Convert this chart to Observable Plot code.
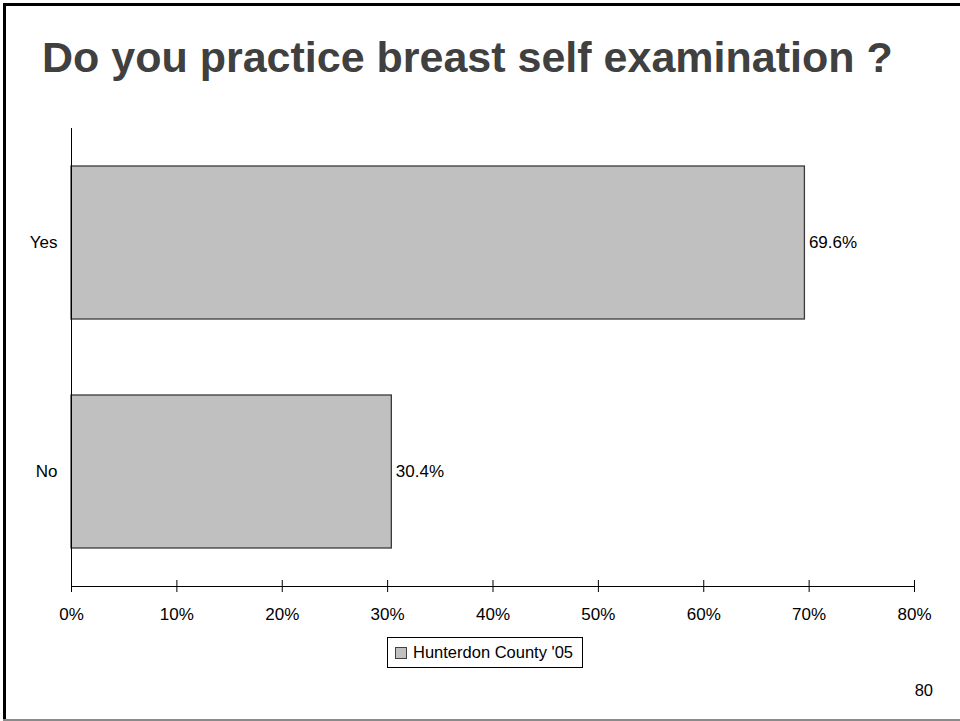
<!DOCTYPE html>
<html>
<head>
<meta charset="utf-8">
<script src="https://cdn.jsdelivr.net/npm/d3@7"></script>
<script src="https://cdn.jsdelivr.net/npm/@observablehq/plot@0.6"></script>
<style>
  html, body { margin: 0; padding: 0; background: #fff; }
  #page { position: relative; width: 960px; height: 721px; overflow: hidden; background: #fff;
          font-family: "Liberation Sans", Arial, sans-serif; }
  .edge-top { position: absolute; z-index: 2; left: 3px; top: 3px; right: 0; height: 3px; background: #000; }
  .edge-left { position: absolute; z-index: 2; left: 3px; top: 3px; width: 3px; bottom: 0; background: #000; }
  .edge-bottom { position: absolute; z-index: 2; left: 3px; right: 0; top: 719px; height: 2px; background: #8a8a8a; }
  #title { position: absolute; left: 42px; top: 36px; font-size: 43px; line-height: 1; font-weight: bold;
           color: #404040; white-space: nowrap; }
  #chart { position: absolute; left: 0; top: 110px; }
  #legend { position: absolute; left: 387px; top: 637px; width: 194px; height: 29px; border: 1px solid #000;
            box-sizing: content-box; display: flex; align-items: center; font-size: 16.5px; color: #000; }
  #legend .sw { width: 10px; height: 10px; background: #c0c0c0; border: 1px solid #404040; margin: 0 6px 0 7px; }
  #pagenum { position: absolute; right: 27px; top: 682px; font-size: 16.5px; line-height: 1; color: #000; }
</style>
</head>
<body>
<div id="page">
  <div id="title"></div>
  <div id="chart"></div>
  <div id="legend"><span class="sw"></span><span id="legend-label"></span></div>
  <div id="pagenum"></div>
  <div class="edge-top"></div>
  <div class="edge-left"></div>
  <div class="edge-bottom"></div>
</div>
<script>
// ---- data ----
const titleText = "Do you practice breast self examination ?";
const answers = ["Yes", "No"];
const percents = [69.6, 30.4];
const seriesName = "Hunterdon County '05";
const xTicks = [0, 10, 20, 30, 40, 50, 60, 70, 80];
const pageNumber = "80";

const data = answers.map((a, i) => ({answer: a, value: percents[i]}));

document.getElementById("title").textContent = titleText;
document.getElementById("legend-label").textContent = seriesName;
document.getElementById("pagenum").textContent = pageNumber;

const W = 960, H = 526, mt = 18, mb = 50, ml = 71, mr = 46;
const plotH = H - mt - mb;

const chart = Plot.plot({
  width: W,
  height: H,
  marginTop: mt,
  marginBottom: mb,
  marginLeft: ml,
  marginRight: mr,
  style: {fontFamily: "'Liberation Sans', Arial, sans-serif", fontSize: "17px", color: "#000", background: "transparent"},
  x: {domain: [0, 80], ticks: xTicks},
  y: {domain: answers, paddingInner: 0.33, paddingOuter: 0.165},
  marks: [
    Plot.barX(data, {x: "value", y: "answer", fill: "#c0c0c0", stroke: "#3a3a3a", strokeWidth: 1.3}),
    Plot.text(data, {x: "value", y: "answer", text: d => d.value.toFixed(1) + "%", textAnchor: "start", dx: 4, fill: "#000", fontSize: 17}),
    Plot.ruleX([0], {stroke: "#000"}),
    Plot.frame({anchor: "bottom", stroke: "#000"}),
    Plot.ruleX(xTicks, {x: d => d, stroke: "#000", insetTop: plotH - 6, insetBottom: -6}),
    Plot.axisX(xTicks, {tickSize: 0, tickPadding: 21, tickFormat: d => d + "%", fontSize: 17, fill: "#000", label: null}),
    Plot.axisY({tickSize: 0, tickPadding: 14, fontSize: 17, fill: "#000", label: null})
  ]
});
document.getElementById("chart").appendChild(chart);
</script>
</body>
</html>
